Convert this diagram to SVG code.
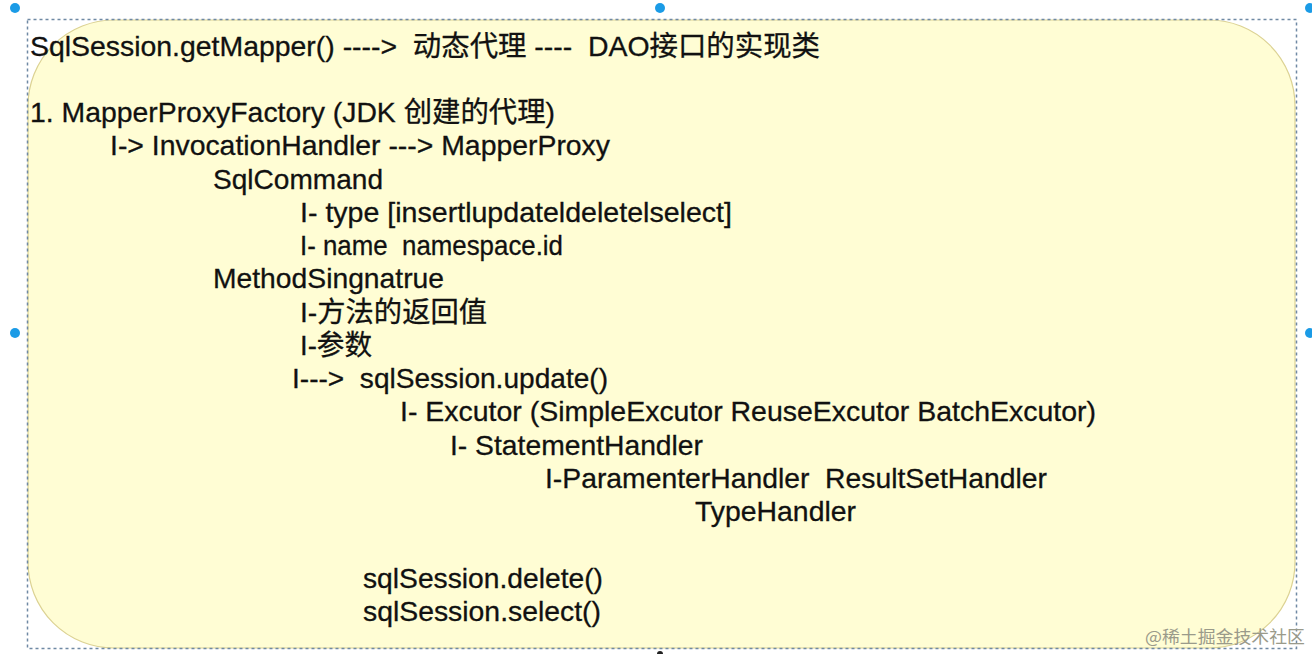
<svg xmlns="http://www.w3.org/2000/svg" width="1312" height="654" viewBox="0 0 1312 654">
  <style>
    .t { font-family: "Liberation Sans", Arial, "Noto Sans CJK SC", sans-serif; font-size: 28.5px; fill: #111111; stroke: #111111; stroke-width: 0.3px; }
    .wm { font-family: "Noto Sans CJK SC", "Liberation Sans", sans-serif; font-size: 17px; fill: #9a9a8a; }
    .h { fill: #1b9be6; }
  </style>
  <rect width="1312" height="654" fill="#ffffff"/>
  <g id="panel">
    <rect x="28" y="20" width="1267" height="628" rx="86" ry="86" fill="#fffdd4" stroke="#dcd293" stroke-width="1.2"/>
  </g>
  <g id="selection">
    <rect x="27.5" y="19.5" width="1269" height="629" fill="none" stroke="#6f89a4" stroke-width="1.5" stroke-dasharray="3 3"/>
    <circle class="h" cx="15" cy="8" r="5"/>
    <circle class="h" cx="660" cy="8" r="5"/>
    <circle class="h" cx="15" cy="333" r="5"/>
    <circle class="h" cx="1310" cy="333" r="5"/>
    <circle class="h" cx="1310" cy="8" r="5"/>
    <circle cx="660" cy="654" r="3" fill="#222"/>
  </g>
  <g id="text">
    <text class="t" x="30" y="56" textLength="790" lengthAdjust="spacingAndGlyphs" xml:space="preserve">SqlSession.getMapper() ---->  动态代理 ----  DAO接口的实现类</text>
    <text class="t" x="30" y="122" textLength="525" lengthAdjust="spacingAndGlyphs">1. MapperProxyFactory (JDK 创建的代理)</text>
    <text class="t" x="110" y="155.25" textLength="500" lengthAdjust="spacingAndGlyphs">I-&gt; InvocationHandler ---&gt; MapperProxy</text>
    <text class="t" x="213" y="188.5" textLength="170" lengthAdjust="spacingAndGlyphs">SqlCommand</text>
    <text class="t" x="300" y="221.75" textLength="432" lengthAdjust="spacingAndGlyphs">I- type [insertlupdateldeletelselect]</text>
    <text class="t" x="300" y="255" textLength="263" lengthAdjust="spacingAndGlyphs" xml:space="preserve">I- name  namespace.id</text>
    <text class="t" x="213" y="288.25" textLength="231" lengthAdjust="spacingAndGlyphs">MethodSingnatrue</text>
    <text class="t" x="300" y="321.5" textLength="187" lengthAdjust="spacingAndGlyphs">I-方法的返回值</text>
    <text class="t" x="300" y="354.75" textLength="72" lengthAdjust="spacingAndGlyphs">I-参数</text>
    <text class="t" x="292" y="388" textLength="316" lengthAdjust="spacingAndGlyphs" xml:space="preserve">I---&gt;  sqlSession.update()</text>
    <text class="t" x="400" y="421.25" textLength="696" lengthAdjust="spacingAndGlyphs">I- Excutor (SimpleExcutor ReuseExcutor BatchExcutor)</text>
    <text class="t" x="450" y="454.5" textLength="253" lengthAdjust="spacingAndGlyphs">I- StatementHandler</text>
    <text class="t" x="545" y="487.75" textLength="502" lengthAdjust="spacingAndGlyphs" xml:space="preserve">I-ParamenterHandler  ResultSetHandler</text>
    <text class="t" x="695" y="521" textLength="161" lengthAdjust="spacingAndGlyphs">TypeHandler</text>
    <text class="t" x="363" y="587.5" textLength="240" lengthAdjust="spacingAndGlyphs">sqlSession.delete()</text>
    <text class="t" x="363" y="620.75" textLength="238" lengthAdjust="spacingAndGlyphs">sqlSession.select()</text>
  </g>
  <text class="wm" x="1145" y="643" textLength="160" lengthAdjust="spacingAndGlyphs">@稀土掘金技术社区</text>
</svg>
